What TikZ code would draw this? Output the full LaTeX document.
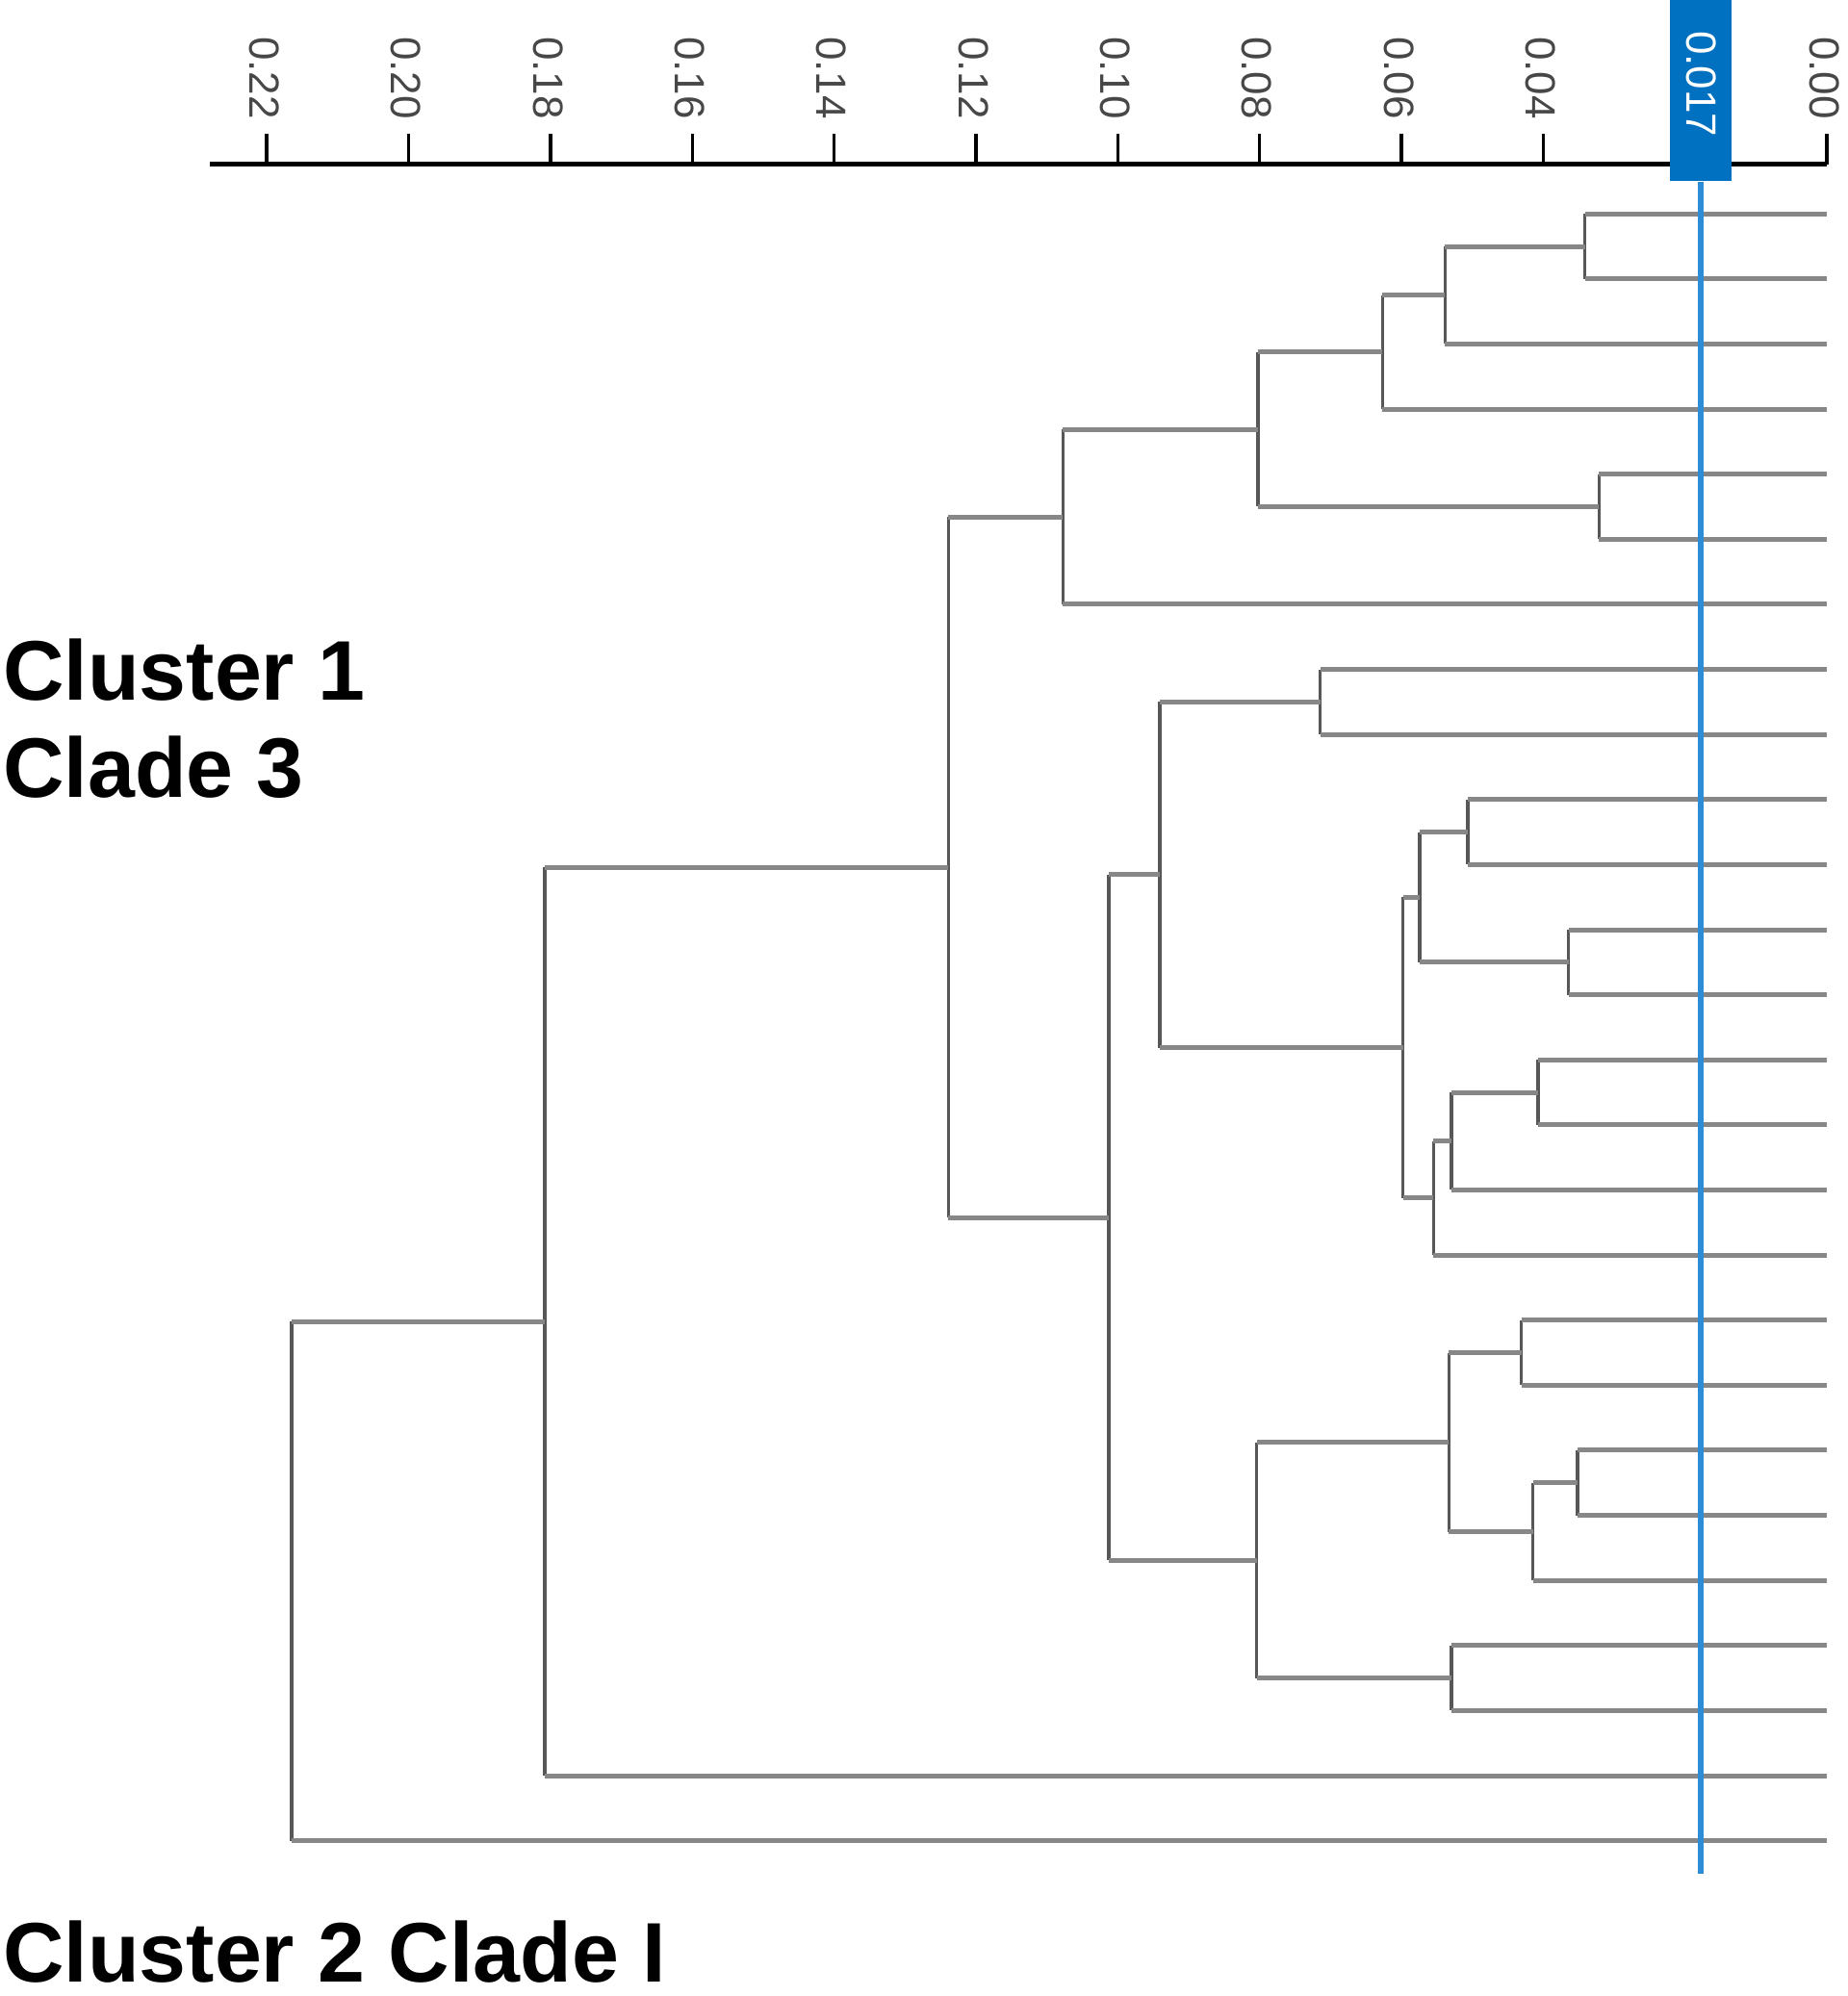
\documentclass[tikz,border=0pt]{standalone}
\usepackage{fontspec}
\setmainfont{Liberation Sans}
\usetikzlibrary{positioning}

\definecolor{cutfill}{RGB}{0,112,192}
\definecolor{cutline}{RGB}{44,140,214}

% one join of the dendrogram: parent, upper child, lower child
\newcommand{\dendjoin}[3]{%
  \draw[stem] (#1 |- #2) -- (#1 |- #3);
  \draw[arm] (#1 |- #2) -- (#2);
  \draw[arm] (#1 |- #3) -- (#3);
}

\begin{document}
\begin{tikzpicture}[
    x=0.13225mm, y=-0.13225mm,
    arm/.style={draw=black!47, line width=0.5mm},
    stem/.style={draw=black!66, line width=0.34mm},
    axisline/.style={draw=black, line width=0.45mm},
    tick/.style={draw=black, line width=0.35mm},
    ticklab/.style={rotate=-90, anchor=east, inner sep=0pt, text=black!72,
      font=\fontsize{12.5}{14}\selectfont},
    cutbox/.style={fill=cutfill, inner sep=0pt, minimum width=6.35mm, minimum height=18.8mm},
    cladelab/.style={anchor=north west, inner sep=0pt, align=left,
      font=\bfseries\fontsize{25}{28.8}\selectfont}
]
  \useasboundingbox (0,0) rectangle (1451,1568);

  % distance axis
  \coordinate (ax0) at (165,129);
  \coordinate (ax1) at (1435,129);
  \draw[axisline] (ax0) -- (ax1);
  \foreach \i in {0,...,11}
    \draw[tick] ({1435-\i*111.4},129) -- ++(0,-24);
  \foreach \lab/\i in {0.00/0,0.04/2,0.06/3,0.08/4,0.10/5,0.12/6,0.14/7,0.16/8,0.18/9,0.20/10,0.22/11}
    \node[ticklab] (t\i) at ({1433-\i*111.4},94) {\lab};

  % leaves
  \foreach \i in {1,...,26}
    \coordinate (l\i) at (1435,{168+(\i-1)*51.12});

  % joins
  \coordinate (A) at (1245,193.6);
  \coordinate (B) at (1135,231.9);
  \coordinate (C) at (1086,276.6);
  \coordinate (D) at (1256,398.0);
  \coordinate (E) at (988,337.3);
  \coordinate (F) at (835,406.0);
  \coordinate (G) at (1037,551.4);
  \coordinate (H) at (1153,653.6);
  \coordinate (I) at (1232,755.9);
  \coordinate (J) at (1115,704.8);
  \coordinate (K) at (1208,858.1);
  \coordinate (L) at (1140,896.5);
  \coordinate (M) at (1126,941.2);
  \coordinate (N) at (1102,823.0);
  \coordinate (O) at (911,687.2);
  \coordinate (P) at (1195,1062.6);
  \coordinate (Q) at (1239,1164.9);
  \coordinate (R) at (1204,1203.2);
  \coordinate (S) at (1138,1132.9);
  \coordinate (T) at (1140,1318.2);
  \coordinate (U) at (987,1225.6);
  \coordinate (V) at (871,956.4);
  \coordinate (W) at (745,681.2);
  \coordinate (X) at (428,1038.1);
  \coordinate (Y) at (229,1242.0);

  \dendjoin{A}{l1}{l2}
  \dendjoin{B}{A}{l3}
  \dendjoin{C}{B}{l4}
  \dendjoin{D}{l5}{l6}
  \dendjoin{E}{C}{D}
  \dendjoin{F}{E}{l7}
  \dendjoin{G}{l8}{l9}
  \dendjoin{H}{l10}{l11}
  \dendjoin{I}{l12}{l13}
  \dendjoin{J}{H}{I}
  \dendjoin{K}{l14}{l15}
  \dendjoin{L}{K}{l16}
  \dendjoin{M}{L}{l17}
  \dendjoin{N}{J}{M}
  \dendjoin{O}{G}{N}
  \dendjoin{P}{l18}{l19}
  \dendjoin{Q}{l20}{l21}
  \dendjoin{R}{Q}{l22}
  \dendjoin{S}{P}{R}
  \dendjoin{T}{l23}{l24}
  \dendjoin{U}{S}{T}
  \dendjoin{V}{O}{U}
  \dendjoin{W}{F}{V}
  \dendjoin{X}{W}{l25}
  \dendjoin{Y}{X}{l26}

  % cut line at 0.017
  \node[cutbox] (cut) at (1336,71) {};
  \node[ticklab, text=white] (cutlab) at (1336,108) {0.017};
  \coordinate (cutend) at (1336,1472);
  \draw[cutline, line width=0.6mm] (cut.south) -- (cutend);

  \node[cladelab] (cl1) at (2,501) {Cluster 1\\Clade 3};
  \node[cladelab] (cl2) at (2,1508) {Cluster 2 Clade I};
\end{tikzpicture}
\end{document}
